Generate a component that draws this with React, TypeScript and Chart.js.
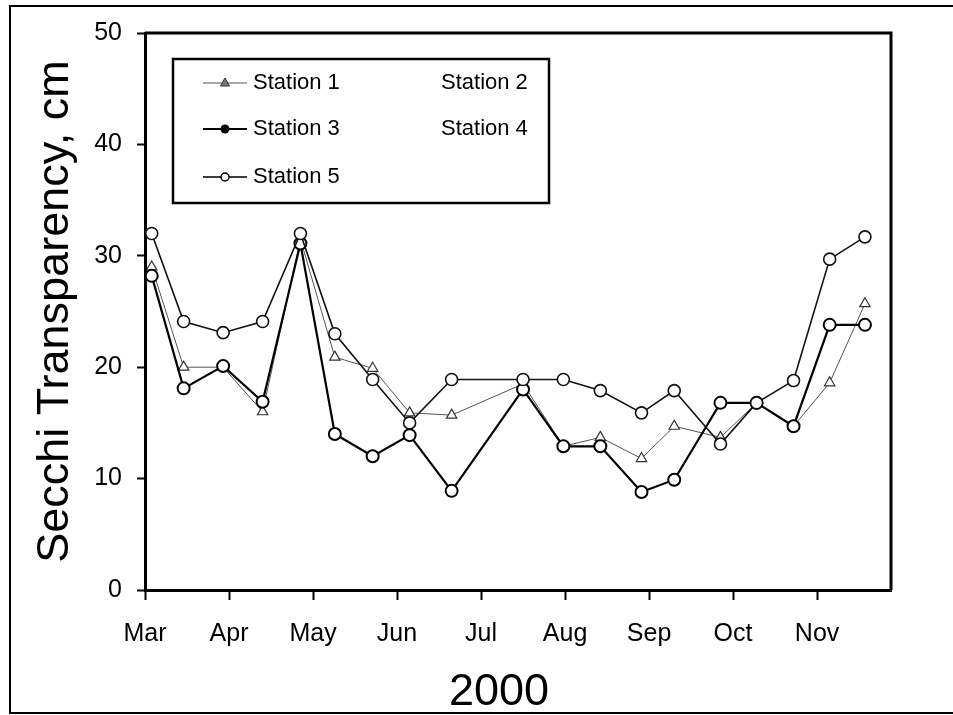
import { useEffect, useRef } from 'react';
import { Chart, registerables } from 'chart.js';

Chart.register(...registerables);

// ---- data ----
const monthLabels = ['Mar', 'Apr', 'May', 'Jun', 'Jul', 'Aug', 'Sep', 'Oct', 'Nov'];
const monthTicks = [0, 1, 2, 3, 4, 5, 6, 7, 8];
const yTicks = [0, 10, 20, 30, 40, 50];
// sampling dates, in months after 1 March 2000
const sampleDates = [0.08, 0.46, 0.93, 1.4, 1.85, 2.26, 2.71, 3.15, 3.65, 4.5, 4.98, 5.42, 5.91, 6.3, 6.85, 7.28, 7.72, 8.15, 8.57];
const station1 = [29, 20, 20, 16, 31.5, 20.9, 19.9, 15.9, 15.7, 18.5, 12.9, 13.7, 11.8, 14.7, 13.7, 16.8, 14.7, 18.6, 25.7];
const station3 = [28.2, 18.1, 20.1, 16.9, 31.1, 14.0, 12.0, 13.9, 8.9, 18.0, 12.9, 12.9, 8.8, 9.9, 16.8, 16.8, 14.7, 23.8, 23.8];
const station5 = [32, 24.1, 23.1, 24.1, 32, 23, 18.9, 15.0, 18.9, 18.9, 18.9, 17.9, 15.9, 17.9, 13.1, 16.8, 18.8, 29.7, 31.7];
const legendLabels = ['Station 1', 'Station 2', 'Station 3', 'Station 4', 'Station 5'];
const xTitle = '2000';
const yTitle = 'Secchi Transparency, cm';

const FONT = '"Liberation Sans", Arial, Helvetica, sans-serif';

const toPoints = (vals: number[]) => vals.map((v, i) => ({ x: sampleDates[i], y: v }));

const decorPlugin = {
  id: 'decor',
  beforeDraw(chart: any) {
    const ctx = chart.ctx;
    ctx.save();
    ctx.fillStyle = '#fff';
    ctx.fillRect(0, 0, chart.width, chart.height);
    // outer figure frame (right side is off the picture)
    ctx.strokeStyle = '#000';
    ctx.lineWidth = 2;
    ctx.beginPath();
    ctx.moveTo(chart.width, 6);
    ctx.lineTo(10, 6);
    ctx.lineTo(10, 713);
    ctx.lineTo(chart.width, 713);
    ctx.stroke();
    ctx.restore();
  },
  afterDraw(chart: any) {
    const ctx = chart.ctx;
    const a = chart.chartArea;
    ctx.save();
    // top & right frame of plot
    ctx.strokeStyle = '#000';
    ctx.lineWidth = 3;
    ctx.beginPath();
    ctx.moveTo(a.left, a.top);
    ctx.lineTo(a.right, a.top);
    ctx.lineTo(a.right, a.bottom);
    ctx.stroke();

    // x-axis title (sits a little left of the plot centre in the original)
    ctx.fillStyle = '#000';
    ctx.font = `45px ${FONT}`;
    ctx.textAlign = 'center';
    ctx.textBaseline = 'alphabetic';
    ctx.fillText(xTitle, a.left + 354, 705);

    // legend box
    const lx = a.left + 28;
    const ly = a.top + 26;
    const lw = 376;
    const lh = 144;
    ctx.lineWidth = 2.5;
    ctx.strokeRect(lx, ly, lw, lh);
    const rows = [ly + 24, ly + 70, ly + 118];
    const symX0 = lx + 30;
    const symX1 = lx + 74;
    const symC = lx + 52;
    const textX1 = lx + 80;
    const textX2 = lx + 268;
    ctx.font = `22px ${FONT}`;
    ctx.textBaseline = 'middle';
    ctx.textAlign = 'left';

    // Station 1
    ctx.strokeStyle = '#555';
    ctx.lineWidth = 1;
    ctx.beginPath();
    ctx.moveTo(symX0, rows[0]);
    ctx.lineTo(symX1, rows[0]);
    ctx.stroke();
    ctx.fillStyle = '#777';
    ctx.strokeStyle = '#333';
    ctx.beginPath();
    ctx.moveTo(symC, rows[0] - 5);
    ctx.lineTo(symC + 4.5, rows[0] + 3);
    ctx.lineTo(symC - 4.5, rows[0] + 3);
    ctx.closePath();
    ctx.fill();
    ctx.stroke();
    // Station 3
    ctx.strokeStyle = '#000';
    ctx.lineWidth = 2;
    ctx.beginPath();
    ctx.moveTo(symX0, rows[1]);
    ctx.lineTo(symX1, rows[1]);
    ctx.stroke();
    ctx.fillStyle = '#000';
    ctx.beginPath();
    ctx.arc(symC, rows[1], 4.5, 0, Math.PI * 2);
    ctx.fill();
    // Station 5
    ctx.lineWidth = 1.5;
    ctx.beginPath();
    ctx.moveTo(symX0, rows[2]);
    ctx.lineTo(symC - 4, rows[2]);
    ctx.moveTo(symC + 4, rows[2]);
    ctx.lineTo(symX1, rows[2]);
    ctx.stroke();
    ctx.beginPath();
    ctx.arc(symC, rows[2], 4, 0, Math.PI * 2);
    ctx.stroke();

    ctx.fillStyle = '#000';
    ctx.fillText(legendLabels[0], textX1, rows[0]);
    ctx.fillText(legendLabels[1], textX2, rows[0]);
    ctx.fillText(legendLabels[2], textX1, rows[1]);
    ctx.fillText(legendLabels[3], textX2, rows[1]);
    ctx.fillText(legendLabels[4], textX1, rows[2]);
    ctx.restore();
  },
};

export default function App() {
  const ref = useRef<HTMLCanvasElement | null>(null);

  useEffect(() => {
    document.body.style.margin = '0';
    const canvas = ref.current;
    if (!canvas) return;
    Chart.defaults.font.family = FONT;
    const chart = new Chart(canvas, {
      type: 'line',
      data: {
        datasets: [
          {
            label: legendLabels[4],
            data: toPoints(station5),
            borderColor: '#111',
            borderWidth: 1.6,
            pointStyle: 'circle',
            pointRadius: 6,
            pointBackgroundColor: '#fff',
            pointBorderColor: '#111',
            pointBorderWidth: 1.6,
            tension: 0,
          },
          {
            label: legendLabels[2],
            data: toPoints(station3),
            borderColor: '#000',
            borderWidth: 2.2,
            pointStyle: 'circle',
            pointRadius: 6,
            pointBackgroundColor: '#fff',
            pointBorderColor: '#000',
            pointBorderWidth: 2,
            tension: 0,
          },
          {
            label: legendLabels[0],
            data: toPoints(station1),
            borderColor: '#555',
            borderWidth: 1,
            pointStyle: 'triangle',
            pointRadius: 6,
            pointBackgroundColor: '#fff',
            pointBorderColor: '#333',
            pointBorderWidth: 1.2,
            tension: 0,
          },
        ],
      },
      options: {
        responsive: false,
        animation: false,
        layout: { padding: { top: 33, right: 62, left: 0, bottom: 0 } },
        plugins: {
          legend: { display: false },
          tooltip: { enabled: false },
        },
        scales: {
          x: {
            type: 'linear',
            min: 0,
            max: 8.88,
            afterBuildTicks: (s: any) => {
              s.ticks = monthTicks.map((v) => ({ value: v }));
            },
            afterFit: (s: any) => {
              s.height = 125;
            },
            ticks: {
              callback: (_v: any, i: number) => monthLabels[i] ?? '',
              color: '#000',
              font: { size: 25 },
              padding: 19,
              maxRotation: 0,
              autoSkip: false,
            },
            grid: {
              display: true,
              drawOnChartArea: false,
              drawTicks: true,
              tickLength: 10,
              tickWidth: 2,
              tickColor: '#000',
            },
            border: { display: true, color: '#000', width: 3 },
            title: { display: false },
          },
          y: {
            type: 'linear',
            min: 0,
            max: 50,
            afterBuildTicks: (s: any) => {
              s.ticks = yTicks.map((v) => ({ value: v }));
            },
            afterFit: (s: any) => {
              s.width = 145;
            },
            ticks: {
              color: '#000',
              font: { size: 25 },
              padding: 15,
            },
            grid: {
              display: true,
              drawOnChartArea: false,
              drawTicks: true,
              tickLength: 8,
              tickWidth: 2,
              tickColor: '#000',
            },
            border: { display: true, color: '#000', width: 3 },
            title: {
              display: true,
              text: yTitle,
              color: '#000',
              font: { size: 45 },
              padding: { top: 29, bottom: 0 },
            },
          },
        },
      },
      plugins: [decorPlugin],
    } as any);
    return () => chart.destroy();
  }, []);

  return (
    <div style={{ width: 953, height: 715, position: 'relative' }}>
      <canvas ref={ref} width={953} height={715} style={{ display: 'block', width: 953, height: 715 }} />
    </div>
  );
}
